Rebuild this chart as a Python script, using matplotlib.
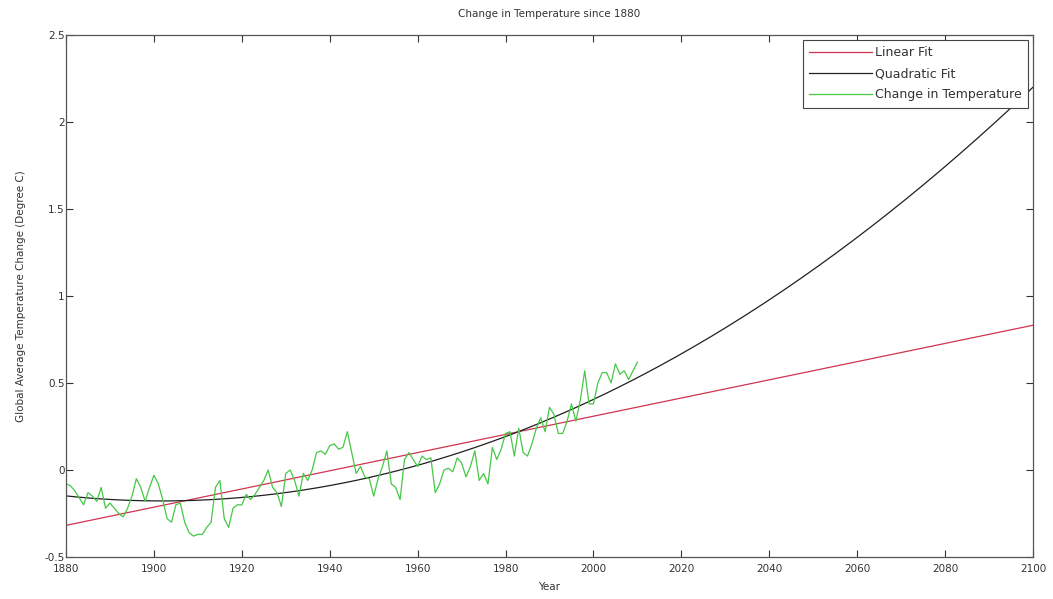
import numpy as np
import matplotlib
matplotlib.use('Agg')
import matplotlib.pyplot as plt

# yearly temperature change (degree C), 1880-2010
years = np.arange(1880, 2011)
temp_change = [
    -0.08, -0.09, -0.12, -0.16, -0.20, -0.13, -0.15, -0.18, -0.10, -0.22,
    -0.19, -0.22, -0.25, -0.27, -0.22, -0.15, -0.05, -0.10, -0.18, -0.10,
    -0.03, -0.08, -0.17, -0.28, -0.30, -0.20, -0.19, -0.30, -0.36, -0.38,
    -0.37, -0.37, -0.33, -0.30, -0.10, -0.06, -0.28, -0.33, -0.22, -0.20,
    -0.20, -0.14, -0.17, -0.14, -0.10, -0.06, 0.00, -0.10, -0.13, -0.21,
    -0.02, 0.00, -0.06, -0.15, -0.02, -0.06, 0.00, 0.10, 0.11, 0.09,
    0.14, 0.15, 0.12, 0.13, 0.22, 0.10, -0.02, 0.02, -0.04, -0.05,
    -0.15, -0.05, 0.02, 0.11, -0.08, -0.10, -0.17, 0.06, 0.10, 0.06,
    0.02, 0.08, 0.06, 0.07, -0.13, -0.08, 0.00, 0.01, -0.01, 0.07,
    0.04, -0.04, 0.02, 0.11, -0.06, -0.02, -0.08, 0.13, 0.06, 0.12,
    0.21, 0.22, 0.08, 0.24, 0.10, 0.08, 0.15, 0.24, 0.30, 0.22,
    0.36, 0.32, 0.21, 0.21, 0.28, 0.38, 0.28, 0.40, 0.57, 0.38,
    0.38, 0.50, 0.56, 0.56, 0.50, 0.61, 0.55, 0.57, 0.52, 0.57,
    0.62,
]
x_ticks = list(range(1880, 2101, 20))
y_ticks = [-0.5, 0, 0.5, 1, 1.5, 2, 2.5]
y_tick_labels = ['-0.5', '0', '0.5', '1', '1.5', '2', '2.5']

# fits, extrapolated to 2100
fit_years = np.arange(1880, 2101)
lin = np.polyfit(years, temp_change, 1)
quad = np.polyfit(years - 1880, temp_change, 2)

plt.rcParams['font.family'] = ['DejaVu Sans']
plt.rcParams['font.size'] = 7.5

fig = plt.figure(figsize=(10.53, 5.99), dpi=100)
ax = fig.add_axes([0.0627, 0.0701, 0.9183, 0.8715])

ax.plot(fit_years, np.polyval(lin, fit_years), color='#d0354f', lw=0.9, label='Linear Fit')
ax.plot(fit_years, np.polyval(quad, fit_years - 1880), color='#202020', lw=0.9, label='Quadratic Fit')
ax.plot(years, temp_change, color='#45c845', lw=0.9, label='Change in Temperature')

ax.set_xlim(1880, 2100)
ax.set_ylim(-0.5, 2.5)
ax.set_xticks(x_ticks)
ax.set_yticks(y_ticks)
ax.set_yticklabels(y_tick_labels)
ax.tick_params(direction='in', top=True, right=True, length=5, width=0.8,
               colors='#333333', labelcolor='#333333')
ax.tick_params(axis='x', pad=5)
ax.tick_params(axis='y', pad=1)
for s in ax.spines.values():
    s.set_color('#555555')
    s.set_linewidth(0.9)

ax.set_title('Change in Temperature since 1880', fontsize=7.5, color='#333333', pad=13)
ax.set_xlabel('Year', color='#333333', labelpad=6)
ax.set_ylabel('Global Average Temperature Change (Degree C)', color='#333333', labelpad=13)

leg = ax.legend(loc='upper right', fancybox=False, framealpha=1, edgecolor='#444444',
                borderaxespad=0.4, handlelength=5.0, handletextpad=0.25,
                labelspacing=0.65, fontsize=9.0, borderpad=0.5)
leg.get_frame().set_linewidth(0.8)
for t in leg.get_texts():
    t.set_color('#333333')

fig.savefig('out.png', dpi=100)
